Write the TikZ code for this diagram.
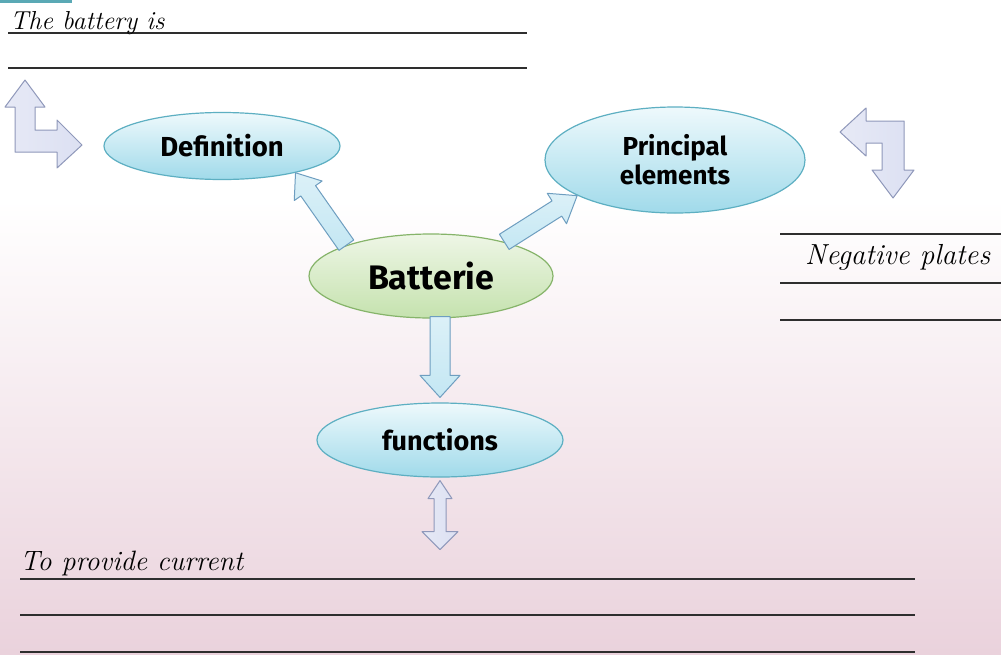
\documentclass[tikz,border=0pt]{standalone}
\usepackage{fontspec}
\newfontfamily\lab{Fira Sans}
\usetikzlibrary{calc,shapes.geometric}
\definecolor{bgpink}{HTML}{EAD2DC}
\definecolor{cyfillA}{HTML}{EEF9FC}
\definecolor{cyfillB}{HTML}{A0DAEA}
\definecolor{cyline}{HTML}{5DAFC2}
\definecolor{grfillA}{HTML}{EEF6E6}
\definecolor{grfillB}{HTML}{C5E2AE}
\definecolor{grline}{HTML}{86B46A}
\definecolor{arfill}{HTML}{C4E7F3}
\definecolor{arline}{HTML}{6E9EC0}
\definecolor{lvfill}{HTML}{DCE0F2}
\definecolor{lvline}{HTML}{8F98BA}
\definecolor{rule}{HTML}{2E2E2E}
\definecolor{teal}{HTML}{5AA9B5}
% single block arrow: style, from, to, shaft half width, head half width, head length
\newcommand{\blockarr}[6]{%
  \path[#1] let \p1=(#2), \p2=(#3), \n1={atan2(\y2-\y1,\x2-\x1)}, \n2={veclen(\x2-\x1,\y2-\y1)} in
   [shift={(\p1)}, rotate=\n1]
   (0,-#4) -- (\n2-#6,-#4) -- (\n2-#6,-#5) -- (\n2,0) -- (\n2-#6,#5) -- (\n2-#6,#4) -- (0,#4) -- cycle;}
% double block arrow: style, from, to, shaft hw, head hw (start), head hw (end), head length
\newcommand{\dblockarr}[7]{%
  \path[#1] let \p1=(#2), \p2=(#3), \n1={atan2(\y2-\y1,\x2-\x1)}, \n2={veclen(\x2-\x1,\y2-\y1)} in
   [shift={(\p1)}, rotate=\n1]
   (0,0) -- (#7,-#5) -- (#7,-#4) -- (\n2-#7,-#4) -- (\n2-#7,-#6) -- (\n2,0) -- (\n2-#7,#6) -- (\n2-#7,#4) -- (#7,#4) -- (#7,#5) -- cycle;}
\begin{document}
\begin{tikzpicture}[x=1pt,y=-1pt,
  bubble/.style={ellipse, inner sep=0pt, draw=cyline, line width=1.2pt,
     top color=cyfillA, bottom color=cyfillB, align=center,
     font=\lab\bfseries, text=black},
  gbubble/.style={bubble, draw=grline, top color=grfillA, bottom color=grfillB},
  conn/.style={draw=arline, line width=1pt, line join=round, top color=white!40!arfill, bottom color=arfill},
  lconn/.style={draw=lvline, line width=1pt, line join=round, left color=white!30!lvfill, right color=lvfill},
  ruling/.style={draw=rule, line width=1.6pt},
  script/.style={text=black, inner sep=0pt, anchor=base west}]
\useasboundingbox (0,0) rectangle (1001,654);
\fill[white] (0,0) rectangle (1001,200);
\shade[top color=white, bottom color=bgpink] (0,200) rectangle (1001,654);
\fill[teal] (0,0) rectangle (72,3);

% rules
\draw[ruling] (8,33) -- (527,33);
\draw[ruling] (8,68) -- (527,68);
\draw[ruling] (780,234) -- (1001,234);
\draw[ruling] (780,283) -- (1001,283);
\draw[ruling] (780,320) -- (1001,320);
\draw[ruling] (20,579) -- (915,579);
\draw[ruling] (20,615) -- (915,615);
\draw[ruling] (20,652) -- (915,652);

% texts on rules
\node[script, font=\rmfamily\itshape\fontsize{26}{28}\selectfont] (t1) at (10,29) {The battery is};
\node[script, font=\rmfamily\itshape\fontsize{29}{32}\selectfont] (t2) at (805,264) {Negative plates};
\node[script, font=\rmfamily\itshape\fontsize{28}{30}\selectfont] (t3) at (20,570) {To provide current};

% bubbles
\node[bubble, minimum width=236pt, minimum height=67pt, font=\lab\bfseries\fontsize{27.5}{30}\selectfont] (def) at (222,146) {Definition};
\node[bubble, minimum width=260pt, minimum height=106pt, font=\lab\bfseries\fontsize{26}{29}\selectfont] (pri) at (675,160) {Principal\\elements};
\node[gbubble, minimum width=244pt, minimum height=84pt, font=\lab\bfseries\fontsize{34}{36}\selectfont] (bat) at (431,276) {Batterie};
\node[bubble, minimum width=246pt, minimum height=74pt, font=\lab\bfseries\fontsize{27}{30}\selectfont] (fun) at (440,440) {functions};

% connectors
\blockarr{conn}{bat.160}{def.-20}{9}{17}{22}
\blockarr{conn}{bat.25}{pri.-160}{9}{18}{24}
\coordinate (bs) at ($(bat.south -| fun.north)+(0,-2)$);
\coordinate (fn) at ($(fun.north)+(0,-5)$);
\blockarr{conn}{bs}{fn}{10}{20}{22}
\coordinate (fs) at ($(fun.south)+(0,3)$);
\coordinate (fend) at ($(fun.south)+(0,72)$);
\dblockarr{lconn}{fs}{fend}{6}{12}{18}{18}

% bent arrows
\path[lconn] (25,80) -- (45,107) -- (35,107) -- (35,130) -- (57,130) -- (57,120)
  -- (82,145) -- (57,168) -- (57,152) -- (15,152) -- (15,107) -- (5,107) -- cycle;
\path[lconn] (840,132) -- (866,108) -- (866,121) -- (904,121) -- (904,170) -- (914,170)
  -- (893,198) -- (872,170) -- (882,170) -- (882,143) -- (866,143) -- (866,156) -- cycle;
\end{tikzpicture}
\end{document}
